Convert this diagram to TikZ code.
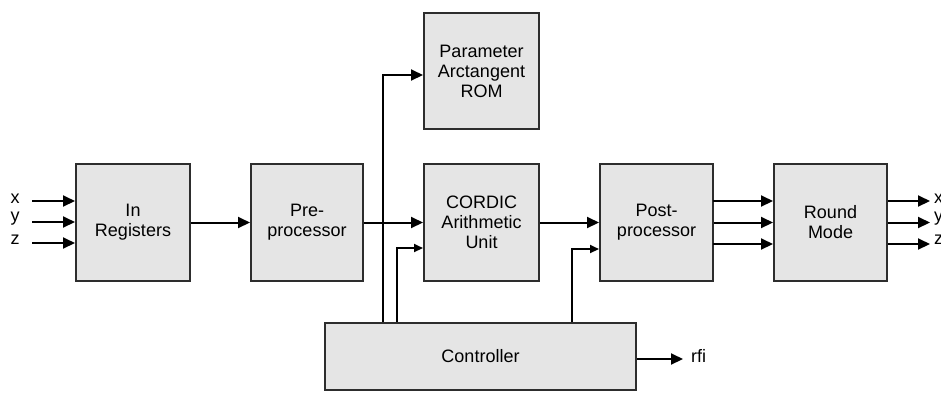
\documentclass[tikz,border=0pt]{standalone}
\usepackage{fontspec}
\setmainfont{Liberation Sans}
\usetikzlibrary{arrows.meta,calc}
\definecolor{boxfill}{RGB}{229,229,229}
\definecolor{boxline}{RGB}{45,45,45}
\begin{document}
\begin{tikzpicture}[x=1pt,y=-1pt,
  blk/.style={draw=boxline,line width=2pt,fill=boxfill,align=center,
    font=\fontsize{18pt}{20pt}\selectfont,inner sep=0pt},
  arr/.style={line width=2pt,-{Triangle[length=12pt,width=11pt]}},
  sarr/.style={line width=2pt,-{Triangle[length=9pt,width=8pt]}},
  lbl/.style={font=\fontsize{18pt}{20pt}\selectfont,inner sep=0pt}]
\useasboundingbox[fill=white] (0,0) rectangle (941,392);
% blocks
\node[blk,minimum width=114pt,minimum height=117pt] (inreg) at (133,222.5) {In\\Registers};
\node[blk,minimum width=112pt,minimum height=117pt] (pre) at (307,222.5) {Pre-\\processor};
\node[blk,minimum width=115pt,minimum height=116pt] (rom) at (481.5,71) {Parameter\\Arctangent\\ROM};
\node[blk,minimum width=115pt,minimum height=117pt] (cordic) at (481.5,222.5) {CORDIC\\Arithmetic\\Unit};
\node[blk,minimum width=113pt,minimum height=117pt] (post) at (656.5,222.5) {Post-\\processor};
\node[blk,minimum width=113pt,minimum height=117pt] (round) at (830.5,222.5) {Round\\Mode};
\node[blk,minimum width=311pt,minimum height=67pt] (ctrl) at (480.5,356.5) {Controller};
% input labels and coordinates
\node[lbl] (lx) at (15,199) {x};
\node[lbl] (ly) at (15,219) {y};
\node[lbl] (lz) at (15,240) {z};
\coordinate (ix) at (32,201);
\coordinate (iy) at (32,222);
\coordinate (iz) at (32,243);
\draw[arr] (ix) -- (ix -| inreg.west);
\draw[arr] (iy) -- (iy -| inreg.west);
\draw[arr] (iz) -- (iz -| inreg.west);
% main chain
\draw[arr] (inreg.east) -- (pre.west);
\draw[arr] (pre.east) -- (cordic.west);
\draw[arr] (cordic.east) -- (post.west);
% post -> round
\coordinate (p1) at (713,201);
\coordinate (p3) at (713,244);
\draw[arr] (p1) -- (p1 -| round.west);
\draw[arr] (post.east) -- (round.west);
\draw[arr] (p3) -- (p3 -| round.west);
% outputs
\coordinate (o1) at (930,201);
\coordinate (o2) at (930,222.5);
\coordinate (o3) at (930,244);
\draw[arr] (o1 -| round.east) -- (o1);
\draw[arr] (o2 -| round.east) -- (o2);
\draw[arr] (o3 -| round.east) -- (o3);
\node[lbl,anchor=west] (ox) at (934,199) {x};
\node[lbl,anchor=west] (oy) at (934,219) {y};
\node[lbl,anchor=west] (oz) at (934,240) {z};
% controller lines
\coordinate (c1) at (383,0);
\coordinate (c2) at (397,0);
\coordinate (c3) at (572,0);
\draw[arr] (c1 |- ctrl.north) |- ([yshift=-4pt]rom.west);
\draw[sarr] (c2 |- ctrl.north) |- ([yshift=-25.5pt]cordic.west);
\draw[sarr] (c3 |- ctrl.north) |- ([yshift=-26.5pt]post.west);
% rfi
\coordinate (rf) at (683,359);
\draw[arr] (ctrl.east |- rf) -- (rf);
\node[lbl,anchor=west] (rfi) at (691,356) {rfi};
\end{tikzpicture}
\end{document}
